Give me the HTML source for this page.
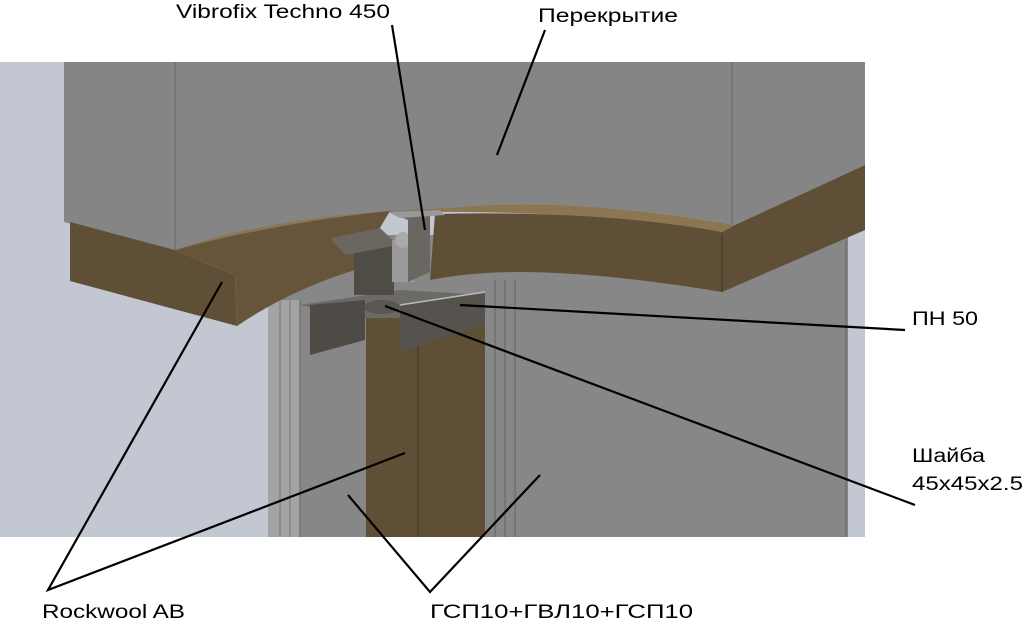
<!DOCTYPE html>
<html><head><meta charset="utf-8"><style>
html,body{margin:0;padding:0;background:#fff;}
svg{display:block}
text{font-family:"Liberation Sans",sans-serif;font-size:19px;fill:#000}
</style></head><body>
<svg width="1024" height="620" viewBox="0 0 1024 620" xmlns="http://www.w3.org/2000/svg">
<rect x="0" y="62" width="865" height="475" fill="#c3c7d2"/>
<rect x="268" y="235" width="580" height="302" fill="#878787"/>
<rect x="268" y="300" width="32" height="237" fill="#a3a3a3"/>
<line x1="280" y1="300" x2="280" y2="537" stroke="#777"/>
<line x1="290" y1="300" x2="290" y2="537" stroke="#777"/>
<line x1="300" y1="300" x2="300" y2="537" stroke="#666"/>
<line x1="495" y1="280" x2="495" y2="537" stroke="#666"/>
<line x1="505" y1="280" x2="505" y2="537" stroke="#666"/>
<line x1="515" y1="280" x2="515" y2="537" stroke="#666"/>
<line x1="846" y1="230" x2="846" y2="537" stroke="#666"/>
<rect x="366" y="318" width="119" height="219" fill="#5f4f36"/>
<line x1="418" y1="318" x2="418" y2="537" stroke="#3f3424"/>
<path d="M64 62 H865 V165 L735 225 Q560 195 450 208 Q330 215 270 240 L175 250 L64 222 Z" fill="#858585"/>
<line x1="175" y1="62" x2="175" y2="250" stroke="#666"/>
<line x1="732" y1="62" x2="732" y2="225" stroke="#666"/>
<path d="M175 250 Q260 220 390 211 L420 212 Q580 210 722 232 L735 225 Q560 195 450 208 Q330 212 268 240 Z" fill="#8c7652"/>
<path d="M70 222 L175 250 L235 275 L237 326 L70 281 Z" fill="#5f4f36"/>
<path d="M175 250 Q280 222 390 211 L355 270 Q290 290 237 326 L235 275 Z" fill="#66553a"/>
<path d="M435 214 Q600 210 722 232 L735 225 L865 165 V230 L722 292 Q600 272 520 272 Q470 272 430 280 Z" fill="#5f4f36"/>
<line x1="722" y1="234" x2="722" y2="292" stroke="#3f3424"/>
<path d="M300 305 L400 290 L485 295 L455 318 L360 318 Z" fill="#6c6a66"/>
<polygon points="310,305 365,300 365,340 310,355" fill="#4e4a45"/>
<polygon points="400,305 485,292 485,325 400,352" fill="#56524d"/>
<line x1="400" y1="305" x2="485" y2="292" stroke="#bbb" stroke-width="1.5"/>
<ellipse cx="382" cy="307" rx="18" ry="7" fill="#5a5752"/>
<rect x="354" y="245" width="40" height="50" fill="#4f4b45"/>
<polygon points="330,238 380,228 398,245 345,255" fill="#6b6760"/>
<rect x="392" y="240" width="22" height="42" fill="#9a9a9a"/>
<circle cx="403" cy="240" r="8" fill="#aaa"/>
<polygon points="388,212 430,210 430,272 408,282 408,220" fill="#6a6661"/>
<polygon points="388,212 440,210 445,215 400,218" fill="#999"/>
<g stroke="#000" stroke-width="2.2" fill="none">
<line x1="392" y1="25" x2="425" y2="230"/>
<line x1="545" y1="30" x2="497" y2="155"/>
<line x1="460" y1="305" x2="905" y2="330"/>
<line x1="385" y1="306" x2="915" y2="505"/>
<polyline points="222,282 48,590 405,453"/>
<polyline points="348,495 430,592 540,475"/>
</g>
<text x="176" y="18" textLength="214" lengthAdjust="spacingAndGlyphs">Vibrofix Techno 450</text>
<text x="538" y="22" textLength="140" lengthAdjust="spacingAndGlyphs">Перекрытие</text>
<text x="912" y="325" textLength="66" lengthAdjust="spacingAndGlyphs">ПН 50</text>
<text x="912" y="462" textLength="73" lengthAdjust="spacingAndGlyphs">Шайба</text>
<text x="912" y="490" textLength="111" lengthAdjust="spacingAndGlyphs">45x45x2.5</text>
<text x="42" y="618" textLength="143" lengthAdjust="spacingAndGlyphs">Rockwool AB</text>
<text x="430" y="618" textLength="263" lengthAdjust="spacingAndGlyphs">ГСП10+ГВЛ10+ГСП10</text>
</svg>
</body></html>
